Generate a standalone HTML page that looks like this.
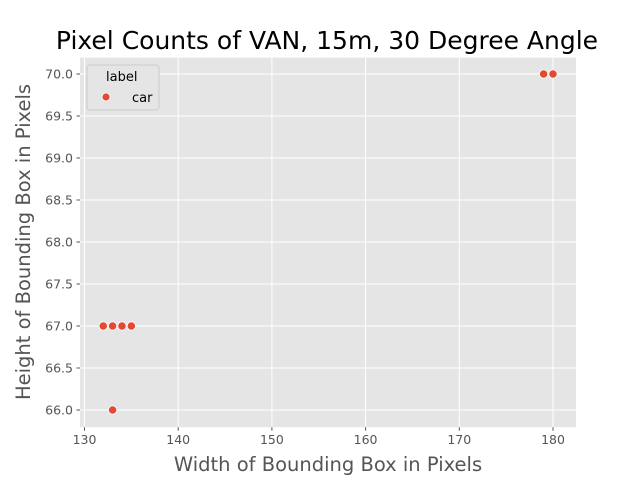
<!DOCTYPE html>
<html><head><meta charset="utf-8"><style>
body{margin:0;background:#fff;}
svg{display:block;font-family:"DejaVu Sans","Liberation Sans",sans-serif;}
</style></head><body>
<svg id="chart" width="640" height="480">
<rect x="0" y="0" width="640" height="480" fill="#fff"/>
<rect x="80" y="57.6" width="496" height="369.6" fill="#e5e5e5"/>
<g id="grid"></g><g id="ticks"></g><g id="points"></g>
<text x="327" y="49" font-size="25" text-anchor="middle" fill="#000">Pixel Counts of VAN, 15m, 30 Degree Angle</text>
<text x="328" y="471" font-size="19.5" text-anchor="middle" fill="#555">Width of Bounding Box in Pixels</text>
<text transform="translate(30,242) rotate(-90)" font-size="19.5" text-anchor="middle" fill="#555">Height of Bounding Box in Pixels</text>
<g>
<rect x="87" y="65" width="72" height="45" rx="3" fill="#e5e5e5" stroke="#ccc" stroke-width="1"/>
<text x="106" y="81" font-size="13" fill="#000">label</text>
<circle cx="106" cy="97" r="4" fill="#e24a33" stroke="#fff" stroke-width="0.8"/>
<text x="132" y="102" font-size="13" fill="#000">car</text>
</g>
</svg>
<script>
const xTicks=[130,140,150,160,170,180];
const yTicks=[66.0,66.5,67.0,67.5,68.0,68.5,69.0,69.5,70.0];
const widths=[132,133,134,135,133,179,180];
const heights=[67,67,67,67,66,70,70];
const NS="http://www.w3.org/2000/svg";
function xs(v){return 84.5+(v-130)*9.37;}
function ys(v){return 410-(v-66)*84;}
function mk(tag,attrs,parent){const e=document.createElementNS(NS,tag);for(const k in attrs)e.setAttribute(k,attrs[k]);document.getElementById(parent).appendChild(e);return e;}
xTicks.forEach(t=>{
 const l=mk('line',{x1:xs(t),x2:xs(t),y1:57.6,y2:427.2,stroke:'#fff','stroke-width':1},'grid');
 
 
 const tk=mk('line',{x1:xs(t),x2:xs(t),y1:427.2,y2:430.7,stroke:'#555'},'ticks');
 
 
 const tx=mk('text',{x:xs(t),y:444,'font-size':12.5,'text-anchor':'middle',fill:'#555'},'ticks');
 tx.textContent=t;
 
 
});
yTicks.forEach(t=>{
 const l=mk('line',{x1:80,x2:576,y1:ys(t),y2:ys(t),stroke:'#fff','stroke-width':1},'grid');
 
 
 const tk=mk('line',{x1:76.5,x2:80,y1:ys(t),y2:ys(t),stroke:'#555'},'ticks');
 
 
 const tx=mk('text',{x:73,y:ys(t)+4.5,'font-size':12.5,'text-anchor':'end',fill:'#555'},'ticks');
 tx.textContent=t.toFixed(1);
 
 
});
widths.forEach((w,i)=>{
 const c=mk('circle',{cx:xs(w),cy:ys(heights[i]),r:4.2,fill:'#e24a33',stroke:'#fff','stroke-width':0.8},'points');
 
 
});
</script>
</body></html>
